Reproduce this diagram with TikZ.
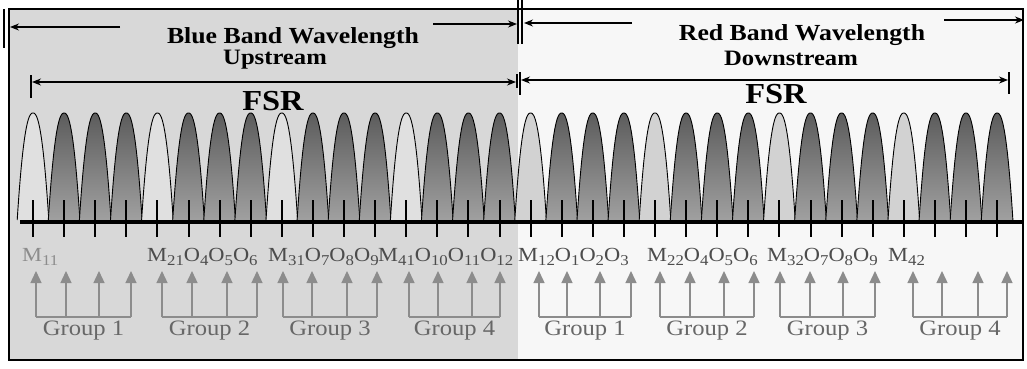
\documentclass[tikz,border=0pt]{standalone}
\usepackage{fontspec}
\setmainfont[FakeStretch=1.12]{Liberation Serif}
\usepackage{tikz}
\usetikzlibrary{arrows.meta,positioning,calc}
\definecolor{bandgray}{HTML}{D8D8D8}
\definecolor{paper}{HTML}{F7F7F7}
\definecolor{peakdark}{HTML}{5C5C5C}
\definecolor{peaklow}{HTML}{A0A0A0}
\definecolor{peaklight}{HTML}{D2D2D2}
\definecolor{arrowgray}{HTML}{8C8C8C}
\definecolor{labelgray}{HTML}{4C4C4C}
\newcommand{\lsub}[1]{\raisebox{-0.45ex}{\fontsize{15}{15}\selectfont #1}}
\tikzset{
  title/.style={font=\fontsize{23}{26}\selectfont\bfseries,inner sep=0pt,anchor=base},
  dirtext/.style={font=\fontsize{22}{24}\selectfont\bfseries,inner sep=0pt,anchor=base},
  fsr/.style={font=\fontsize{29}{30}\selectfont\bfseries,inner sep=0pt,anchor=base},
  chan/.style={font=\fontsize{20}{22}\selectfont,text=labelgray,inner sep=0pt,anchor=base west},
  grp/.style={font=\fontsize{22}{24}\selectfont,text=labelgray!85!white,inner sep=0pt},
  band/.style={-{Stealth[length=9pt,width=7pt]},line width=1.2pt},
  span/.style={{Stealth[length=9pt,width=7pt]}-{Stealth[length=9pt,width=7pt]},line width=1.2pt},
  bar/.style={line width=1.2pt},
  up/.style={-{Triangle[length=12pt,width=11pt]},arrowgray,line width=1.4pt},
  brk/.style={arrowgray,line width=1.4pt},
  tick/.style={line width=2pt},
  peak/.style={draw=black,line width=0.9pt}
}

\begin{document}
\begin{tikzpicture}[x=1pt,y=-1pt]
  \useasboundingbox (0,0) rectangle (1027,368);
  % two bands
  \fill[white] (0,0) rectangle (1027,368);
  \fill[bandgray] (9,9) rectangle (518,360);
  \fill[paper] (518,9) rectangle (1023,360);
  \draw[line width=2pt] (9,9) rectangle (1023,360);

  % band titles
  \node[title] (blue) at (293,43) {Blue Band Wavelength};
  \node[title] (red) at (802,40) {Red Band Wavelength};
  \coordinate (blueL) at (10,27);
  \coordinate (blueLend) at (120,27);
  \coordinate (blueRstart) at (433,24);
  \coordinate (blueR) at (517,24);
  \coordinate (redL) at (524,23);
  \coordinate (redLend) at (632,23);
  \coordinate (redRstart) at (944,20);
  \coordinate (redR) at (1024,20);
  \draw[band] (blueLend) -- (blueL);
  \draw[band] (blueRstart) -- (blueR);
  \draw[band] (redLend) -- (redL);
  \draw[band] (redRstart) -- (redR);
  \draw[bar] (4,9) -- (4,48);
  \draw[bar] (518,0) -- (518,44);
  \draw[bar] (522,0) -- (522,44);

  % free spectral range
  \node[dirtext] (up) at (275,64) {Upstream};
  \node[dirtext] (down) at (791,65) {Downstream};
  \node[fsr] (fsrup) at (273,110) {FSR};
  \node[fsr] (fsrdown) at (776,103) {FSR};
  \coordinate (fsrUa) at (32,82);
  \coordinate (fsrUb) at (516,82);
  \coordinate (fsrDa) at (521,80);
  \coordinate (fsrDb) at (1008,80);
  \draw[span] (fsrUa) -- (fsrUb);
  \draw[span] (fsrDa) -- (fsrDb);
  \draw[bar] (31,75) -- (31,98);
  \draw[bar] (517,74) -- (517,88);
  \draw[bar] (520,72) -- (520,95);
  \draw[bar] (1009,72) -- (1009,94);

  % channel peaks
  \foreach \i in {0,...,31}{
    \pgfmathsetmacro{\cx}{33+31.1*\i}
    \pgfmathtruncatemacro{\kind}{mod(\i,4)}
    \ifnum\kind=0
      \ifnum\i<16
        \filldraw[peak,fill=bandgray!80!white]
          plot[domain=-1:1,samples=41] ({\cx+15.8*\x},{220-107*(1-abs(\x)^2.3)});
      \else
        \filldraw[peak,fill=peaklight]
          plot[domain=-1:1,samples=41] ({\cx+15.8*\x},{220-107*(1-abs(\x)^2.3)});
      \fi
    \else
      \shadedraw[peak,top color=peakdark,bottom color=peaklow]
        plot[domain=-1:1,samples=41] ({\cx+15.8*\x},{220-107*(1-abs(\x)^2.3)});
    \fi
  }
  \foreach \i in {0,...,31}
    \draw[tick] ({33+31.1*\i},200) -- ({33+31.1*\i},237);
  \draw[line width=4pt] (20,222) -- (1022,222);

  % channel labels
  \node[chan,text=arrowgray] (m11) at (22,261) {M\lsub{11}};
  \node[chan] (m21) at (147,261) {M\lsub{21}O\lsub{4}O\lsub{5}O\lsub{6}};
  \node[chan] (m31) at (268,261) {M\lsub{31}O\lsub{7}O\lsub{8}O\lsub{9}};
  \node[chan] (m41) at (378,261) {M\lsub{41}O\lsub{10}O\lsub{11}O\lsub{12}};
  \node[chan] (m12) at (518,261) {M\lsub{12}O\lsub{1}O\lsub{2}O\lsub{3}};
  \node[chan] (m22) at (647,261) {M\lsub{22}O\lsub{4}O\lsub{5}O\lsub{6}};
  \node[chan] (m32) at (767,261) {M\lsub{32}O\lsub{7}O\lsub{8}O\lsub{9}};
  \node[chan] (m42) at (888,261) {M\lsub{42}};

  % groups of four
  \foreach \g/\n/\xa/\xb/\xc/\xd in {1/1/36/66/99/131,2/2/162/192/227/257,
      3/3/283/312/347/377,4/4/409/438/472/500,5/1/539/567/600/631,
      6/2/660/690/724/754,7/3/780/810/843/875,8/4/913/942/978/1007}{
    \coordinate (gl\g) at (\xa,317);
    \coordinate (gr\g) at (\xd,317);
    \coordinate (gm\g) at ($(gl\g)!0.5!(gr\g)$);
    \draw[brk] (gl\g) -- (gr\g);
    \foreach \x in {\xa,\xb,\xc,\xd}
      \draw[up] (\x,317) -- (\x,271);
    \node[grp,below=4pt of gm\g] (grp\g) {Group \n};
  }
\end{tikzpicture}
\end{document}
